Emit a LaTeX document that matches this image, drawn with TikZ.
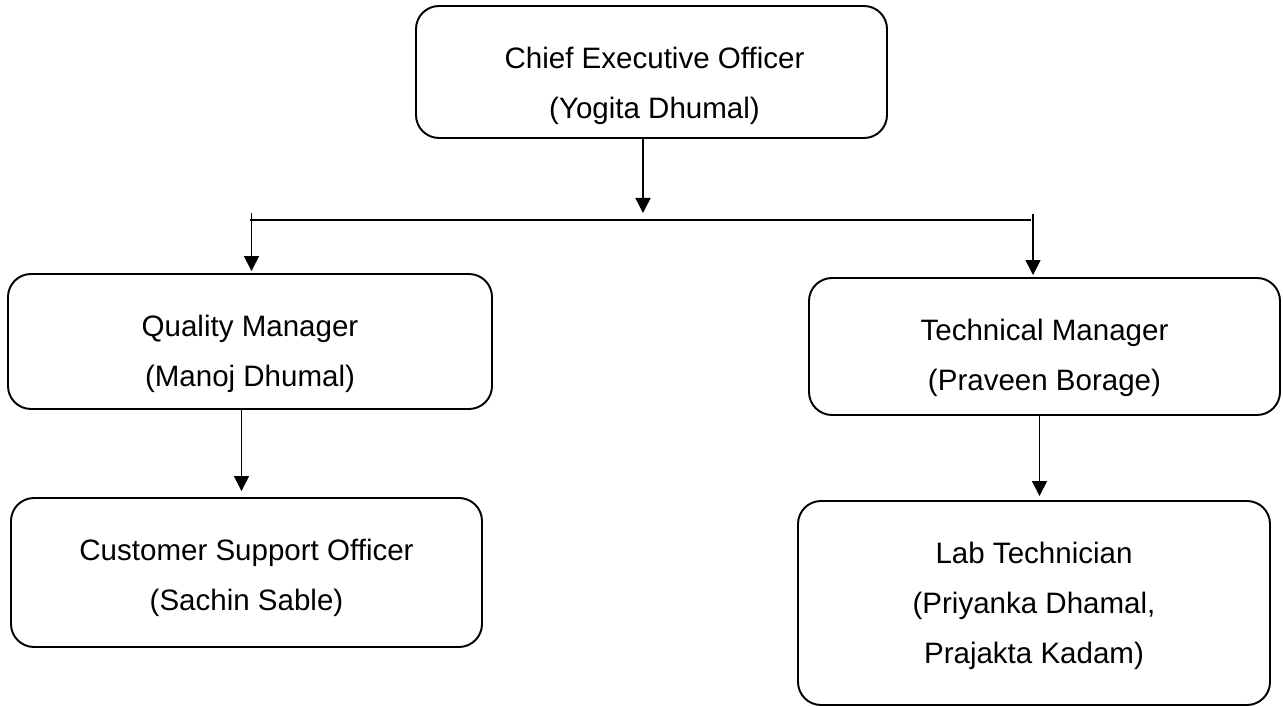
\documentclass[tikz,border=0pt]{standalone}
\usepackage{fontspec}
\setmainfont{Liberation Sans}
\usetikzlibrary{arrows.meta}

\tikzset{
    rolebox/.style={draw, line width=1.1pt, rounded corners=0.46cm, inner sep=0pt},
    roletext/.style={anchor=north, align=center, inner sep=0pt,
        font=\fontsize{16.8pt}{28.6pt}\selectfont},
    link/.style={line width=0.85pt},
    arr/.style={link, -{Triangle[width=0.3cm, length=0.3cm]}}
}

\begin{document}
\begin{tikzpicture}

    \useasboundingbox (0,0) rectangle (25.66,-14.12);

    % Boxes
    \node[rolebox, minimum width=9.42cm, minimum height=2.64cm] (ceo) at (13.03,-1.44) {};
    \node[rolebox, minimum width=9.68cm, minimum height=2.70cm] (qm) at (5.00,-6.83) {};
    \node[rolebox, minimum width=9.42cm, minimum height=2.74cm] (tm) at (20.89,-6.93) {};
    \node[rolebox, minimum width=9.42cm, minimum height=2.98cm] (cso) at (4.93,-11.45) {};
    \node[rolebox, minimum width=9.44cm, minimum height=4.08cm] (lab) at (20.68,-12.06) {};

    % Texts, hung from the top of each box
    \node[roletext] (ceoT) at ([xshift=0.06cm, yshift=-0.83cm]ceo.north) {Chief Executive Officer\\(Yogita Dhumal)};
    \node[roletext] (qmT) at ([yshift=-0.83cm]qm.north) {Quality Manager\\(Manoj Dhumal)};
    \node[roletext] (tmT) at ([yshift=-0.83cm]tm.north) {Technical Manager\\(Praveen Borage)};
    \node[roletext] (csoT) at ([yshift=-0.83cm]cso.north) {Customer Support Officer\\(Sachin Sable)};
    \node[roletext] (labT) at ([yshift=-0.83cm]lab.north) {Lab Technician\\(Priyanka Dhamal,\\Prajakta Kadam)};

    % Branch line
    \coordinate (bus) at (12.86,-4.26);
    \coordinate (busL) at (5.00,-4.40);
    \coordinate (busR) at (20.62,-4.40);
    \coordinate (dropL) at (5.03,-4.26);
    \coordinate (dropR) at (20.66,-4.28);

    \draw[arr] (ceo.south -| bus) -- (bus);
    \draw[link] (busL) -- (busR);
    \draw[arr, shorten >=0.04cm] (dropL) -- (qm.north -| dropL);
    \draw[arr, shorten >=0.04cm] (dropR) -- (tm.north -| dropR);

    % Lower levels
    \draw[arr, shorten >=0.12cm] ([xshift=-0.17cm]qm.south) -- ([xshift=-0.17cm]qm.south |- cso.north);
    \draw[arr, shorten >=0.08cm] ([xshift=-0.1cm]tm.south) -- ([xshift=-0.1cm]tm.south |- lab.north);

\end{tikzpicture}
\end{document}
